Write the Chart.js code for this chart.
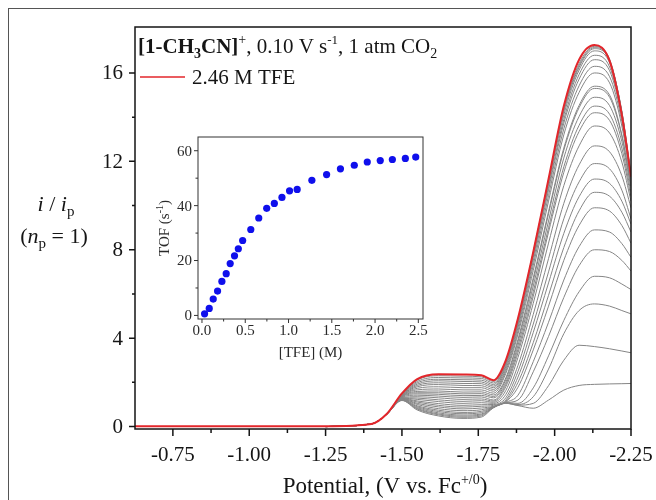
<!DOCTYPE html>
<html>
<head>
<meta charset="utf-8">
<script src="https://cdn.jsdelivr.net/npm/chart.js@4.4.1/dist/chart.umd.min.js"></script>
<style>
    body { margin: 0; background: #fff; }
    #wrap { position: relative; width: 656px; height: 500px; overflow: hidden; background: #fff; }
    #frame { position: absolute; left: 8px; top: 8px; width: 660px; height: 500px; border-left: 1px solid #555; border-top: 1px solid #555; }
    #cv { position: absolute; left: 0; top: 0; }
    #tof { position: absolute; left: 140px; top: 125px; }
</style>
</head>
<body>
<div id="wrap">
    <div id="frame"></div>
    <canvas id="cv" width="656" height="500"></canvas>
    <canvas id="tof" width="300" height="240"></canvas>
</div>
<script>
// Potentiale (V vs. Fc+/0), gemeinsam für alle Kurven
const potentials = [-0.626, -1.25, -1.40, -1.45, -1.50, -1.55, -1.62, -1.70, -1.76, -1.80, -1.84, -1.88, -1.93, -1.98, -2.03, -2.08, -2.13, -2.18, -2.22, -2.25];

// Graue CVs, steigende TFE-Konzentration (i/ip)
const greyTraces = [
    [null, 0, 0.12, 0.55, 1.18, 0.75, 0.48, 0.37, 0.43, 0.85, 1.05, 0.95, 0.83, 1.2, 1.65, 1.86, 1.91, 1.93, 1.94, 1.95],
    [null, 0, 0.12, 0.55, 1.19, 0.79, 0.53, 0.42, 0.48, 0.86, 1.06, 0.97, 1.05, 1.85, 3.0, 3.68, 3.62, 3.52, 3.42, 3.34],
    [null, 0, 0.12, 0.55, 1.20, 0.82, 0.57, 0.47, 0.53, 0.87, 1.07, 1.0, 1.35, 2.6, 4.2, 5.25, 5.55, 5.45, 5.25, 5.1],
    [null, 0, 0.12, 0.55, 1.20, 0.86, 0.62, 0.52, 0.57, 0.88, 1.08, 1.05, 1.75, 3.2, 4.8, 6.1, 6.8, 6.73, 6.45, 6.2],
    [null, 0, 0.12, 0.55, 1.21, 0.90, 0.68, 0.58, 0.63, 0.88, 1.08, 1.2, 2.48, 4.08, 5.84, 7.28, 8.0, 7.92, 7.52, 7.04],
    [null, 0, 0.12, 0.55, 1.22, 0.94, 0.74, 0.64, 0.69, 0.89, 1.1, 1.42, 2.94, 4.72, 6.63, 8.14, 8.9, 8.8, 8.28, 7.66],
    [null, 0, 0.12, 0.55, 1.24, 1.0, 0.81, 0.72, 0.76, 0.9, 1.12, 1.78, 3.47, 5.45, 7.52, 9.1, 9.9, 9.75, 9.1, 8.3],
    [null, 0, 0.12, 0.55, 1.25, 1.05, 0.89, 0.80, 0.84, 0.92, 1.15, 2.0, 3.8, 5.94, 8.1, 9.76, 10.6, 10.42, 9.7, 8.8],
    [null, 0, 0.12, 0.55, 1.26, 1.11, 0.96, 0.88, 0.92, 0.96, 1.2, 2.24, 4.26, 6.5, 8.74, 10.4, 11.2, 11.0, 10.2, 9.16],
    [null, 0, 0.12, 0.55, 1.27, 1.16, 1.04, 0.96, 0.99, 1.0, 1.3, 2.5, 4.64, 7.0, 9.4, 11.07, 11.9, 11.66, 10.7, 9.4],
    [null, 0, 0.12, 0.55, 1.29, 1.23, 1.13, 1.05, 1.08, 1.05, 1.45, 2.77, 5.08, 7.6, 10.1, 11.84, 12.7, 12.43, 11.35, 9.9],
    [null, 0, 0.12, 0.55, 1.30, 1.29, 1.21, 1.14, 1.17, 1.1, 1.63, 3.13, 5.58, 8.3, 10.9, 12.7, 13.6, 13.28, 11.97, 10.2],
    [null, 0, 0.12, 0.55, 1.32, 1.35, 1.30, 1.23, 1.25, 1.15, 1.8, 3.34, 5.9, 8.8, 11.5, 13.35, 14.2, 13.85, 12.35, 10.4],
    [null, 0, 0.12, 0.55, 1.33, 1.42, 1.38, 1.32, 1.34, 1.2, 1.9, 3.5, 6.1, 9.0, 11.75, 13.63, 14.5, 14.13, 12.6, 10.6],
    [null, 0, 0.12, 0.55, 1.35, 1.48, 1.46, 1.40, 1.41, 1.3, 2.0, 3.67, 6.36, 9.3, 12.15, 14.03, 14.9, 14.52, 12.9, 10.8],
    [null, 0, 0.12, 0.55, 1.36, 1.53, 1.53, 1.48, 1.49, 1.36, 2.12, 3.84, 6.6, 9.63, 12.5, 14.43, 15.3, 14.9, 13.15, 10.95],
    [null, 0, 0.12, 0.55, 1.37, 1.59, 1.61, 1.56, 1.57, 1.43, 2.2, 3.95, 6.73, 9.73, 12.6, 14.53, 15.4, 15.0, 13.2, 10.9],
    [null, 0, 0.12, 0.56, 1.39, 1.66, 1.70, 1.66, 1.66, 1.51, 2.4, 4.19, 7.07, 10.2, 13.2, 15.12, 16.0, 15.55, 13.6, 11.1],
    [null, 0, 0.12, 0.56, 1.40, 1.73, 1.80, 1.76, 1.76, 1.6, 2.5, 4.33, 7.3, 10.45, 13.47, 15.42, 16.3, 15.83, 13.8, 11.2],
    [null, 0, 0.12, 0.56, 1.42, 1.80, 1.90, 1.86, 1.85, 1.68, 2.6, 4.48, 7.5, 10.7, 13.73, 15.72, 16.6, 16.1, 13.98, 11.3],
    [null, 0, 0.12, 0.56, 1.43, 1.86, 1.98, 1.95, 1.94, 1.76, 2.7, 4.6, 7.65, 10.85, 13.9, 15.93, 16.8, 16.27, 14.1, 11.35],
    [null, 0, 0.12, 0.56, 1.45, 1.92, 2.07, 2.04, 2.02, 1.83, 2.78, 4.7, 7.78, 11.0, 14.1, 16.13, 17.0, 16.45, 14.24, 11.4],
    [null, 0, 0.12, 0.57, 1.46, 1.98, 2.14, 2.12, 2.10, 1.90, 2.85, 4.76, 7.85, 11.1, 14.25, 16.25, 17.1, 16.54, 14.28, 11.35],
    [null, 0, 0.12, 0.57, 1.47, 2.04, 2.22, 2.20, 2.18, 1.97, 2.9, 4.8, 7.87, 11.13, 14.33, 16.33, 17.15, 16.57, 14.2, 11.3],
    [null, 0, 0.12, 0.57, 1.48, 2.10, 2.30, 2.28, 2.25, 2.04, 2.95, 4.85, 7.9, 11.17, 14.4, 16.42, 17.2, 16.62, 14.2, 11.3]
];

// Rote Kurve: 2.46 M TFE
const redTrace = [0.02, 0.02, 0.12, 0.57, 1.5, 2.15, 2.37, 2.36, 2.32, 2.1, 3.0, 4.9, 7.9, 11.2, 14.5, 16.6, 17.27, 16.55, 14.1, 11.3];

// Achsenbeschriftung Hauptdiagramm
const xTicks = [-0.75, -1.00, -1.25, -1.50, -1.75, -2.00, -2.25];
const xMinorTicks = [-0.875, -1.125, -1.375, -1.625, -1.875, -2.125];
const yTicks = [0, 4, 8, 12, 16];
const yMinorTicks = [2, 6, 10, 14];

// Inset: TOF gegen [TFE]
const tfeConc = [0.03, 0.084, 0.13, 0.18, 0.23, 0.28, 0.326, 0.376, 0.42, 0.47, 0.564, 0.656, 0.748, 0.836, 0.924, 1.012, 1.10, 1.27, 1.44, 1.60, 1.76, 1.91, 2.06, 2.20, 2.35, 2.47];
const tofValues = [0.6, 2.55, 5.95, 8.87, 12.4, 15.2, 18.9, 21.7, 24.3, 27.3, 31.3, 35.5, 39.0, 40.8, 43.0, 45.4, 45.9, 49.2, 51.3, 53.4, 54.7, 55.9, 56.4, 56.8, 57.2, 57.7];
const insetXTicks = [0.0, 0.5, 1.0, 1.5, 2.0, 2.5];
const insetXMinor = [0.25, 0.75, 1.25, 1.75, 2.25];
const insetYTicks = [0, 20, 40, 60];
const insetYMinor = [10, 30, 50];

const SERIF = '"Liberation Serif", "Times New Roman", serif';
const INK = '#151515';

// Text aus mehreren Stücken (Hoch-/Tiefstellung)
function drawParts(ctx, parts, x, y, align) {
    let total = 0;
    parts.forEach(p => { ctx.font = p[1]; total += ctx.measureText(p[0]).width; });
    let cx = x;
    if (align === 'center') cx = x - total / 2;
    if (align === 'right') cx = x - total;
    ctx.textAlign = 'left';
    parts.forEach(p => {
        ctx.font = p[1];
        ctx.fillText(p[0], cx, y + (p[2] || 0));
        cx += ctx.measureText(p[0]).width;
    });
}

function toPoints(values) {
    return potentials
        .map((v, i) => ({ x: v, y: values[i] }))
        .filter(p => p.y !== null);
}

// Rahmen, Teilstriche und Beschriftungen des Hauptdiagramms
const cvDecor = {
    id: 'cvDecor',
    afterDraw(chart) {
        const { ctx, chartArea: a } = chart;
        const x = chart.scales.x, y = chart.scales.y;
        ctx.save();
        ctx.strokeStyle = INK;
        ctx.lineWidth = 1.5;
        ctx.strokeRect(a.left, a.top, a.right - a.left, a.bottom - a.top);

        ctx.beginPath();
        xTicks.forEach(v => { const px = x.getPixelForValue(v); ctx.moveTo(px, a.bottom); ctx.lineTo(px, a.bottom + 7); });
        xMinorTicks.forEach(v => { const px = x.getPixelForValue(v); ctx.moveTo(px, a.bottom); ctx.lineTo(px, a.bottom + 4); });
        yTicks.forEach(v => { const py = y.getPixelForValue(v); ctx.moveTo(a.left, py); ctx.lineTo(a.left - 6, py); });
        yMinorTicks.forEach(v => { const py = y.getPixelForValue(v); ctx.moveTo(a.left, py); ctx.lineTo(a.left - 3, py); });
        ctx.stroke();

        ctx.fillStyle = INK;
        ctx.font = '21px ' + SERIF;
        ctx.textAlign = 'center';
        ctx.textBaseline = 'alphabetic';
        xTicks.forEach(v => ctx.fillText(v.toFixed(2), x.getPixelForValue(v), 461));
        ctx.textAlign = 'right';
        ctx.textBaseline = 'middle';
        yTicks.forEach(v => ctx.fillText(String(v), a.left - 12, y.getPixelForValue(v) + 1));
        ctx.textBaseline = 'alphabetic';

        // Achsentitel
        const reg = '22px ' + SERIF, small = '14px ' + SERIF, ital = 'italic 22px ' + SERIF, sub = '15px ' + SERIF;
        drawParts(ctx, [['Potential, (V vs. Fc', '23px ' + SERIF], ['+/0', small, -9], [')', '23px ' + SERIF]], 385, 493, 'center');
        drawParts(ctx, [['i', ital], [' / ', reg], ['i', ital], ['p', sub, 5]], 56, 211, 'center');
        drawParts(ctx, [['(', reg], ['n', ital], ['p', sub, 5], [' = 1)', reg]], 54, 243, 'center');

        // Kopfzeile und Legende
        const head = '21px ' + SERIF, bold = 'bold 21px ' + SERIF, boldSub = 'bold 14px ' + SERIF;
        drawParts(ctx, [
            ['[1-CH', bold], ['3', boldSub, 5], ['CN]', bold], ['+', '14px ' + SERIF, -9],
            [', 0.10 V s', head], ['-1', '13px ' + SERIF, -9], [', 1 atm CO', head], ['2', '14px ' + SERIF, 5]
        ], 138, 53, 'left');
        ctx.strokeStyle = '#e3262b';
        ctx.lineWidth = 1.5;
        ctx.beginPath();
        ctx.moveTo(140, 77);
        ctx.lineTo(185, 77);
        ctx.stroke();
        drawParts(ctx, [['2.46 M TFE', head]], 192, 84, 'left');
        ctx.restore();
    }
};

const datasets = [{
    data: toPoints(redTrace),
    borderColor: '#e3262b',
    borderWidth: 2,
    order: 0
}];
greyTraces.forEach(tr => {
    datasets.push({
        data: toPoints(tr),
        borderColor: '#858585',
        borderWidth: 1,
        order: 1
    });
});

new Chart(document.getElementById('cv'), {
    type: 'line',
    data: { datasets: datasets },
    options: {
        responsive: false,
        animation: false,
        devicePixelRatio: 1,
        layout: { padding: { top: 27, right: 25, left: 0, bottom: 0 } },
        elements: {
            point: { radius: 0 },
            line: { cubicInterpolationMode: 'monotone', fill: false }
        },
        plugins: { legend: { display: false }, tooltip: { enabled: false } },
        scales: {
            x: {
                type: 'linear',
                reverse: true,
                min: -2.25,
                max: -0.626,
                grid: { display: false, drawTicks: false },
                border: { display: false },
                ticks: { display: false },
                afterFit: s => { s.height = 71; }
            },
            y: {
                min: -0.11,
                max: 18.08,
                grid: { display: false, drawTicks: false },
                border: { display: false },
                ticks: { display: false },
                afterFit: s => { s.width = 135; }
            }
        }
    },
    plugins: [cvDecor]
});

// Inset-Rahmen und Beschriftung
const insetDecor = {
    id: 'insetDecor',
    afterDraw(chart) {
        const { ctx, chartArea: a } = chart;
        const x = chart.scales.x, y = chart.scales.y;
        ctx.save();
        ctx.strokeStyle = '#333';
        ctx.lineWidth = 1;
        ctx.strokeRect(a.left, a.top, a.right - a.left, a.bottom - a.top);
        ctx.beginPath();
        insetXTicks.forEach(v => { const px = x.getPixelForValue(v); ctx.moveTo(px, a.bottom); ctx.lineTo(px, a.bottom + 4); });
        insetXMinor.forEach(v => { const px = x.getPixelForValue(v); ctx.moveTo(px, a.bottom); ctx.lineTo(px, a.bottom + 2.5); });
        insetYTicks.forEach(v => { const py = y.getPixelForValue(v); ctx.moveTo(a.left, py); ctx.lineTo(a.left - 4, py); });
        insetYMinor.forEach(v => { const py = y.getPixelForValue(v); ctx.moveTo(a.left, py); ctx.lineTo(a.left - 2.5, py); });
        ctx.stroke();

        ctx.fillStyle = '#2a2a2a';
        ctx.font = '15px ' + SERIF;
        ctx.textAlign = 'center';
        insetXTicks.forEach(v => ctx.fillText(v.toFixed(1), x.getPixelForValue(v), a.bottom + 16));
        ctx.textAlign = 'right';
        ctx.textBaseline = 'middle';
        insetYTicks.forEach(v => ctx.fillText(String(v), a.left - 6, y.getPixelForValue(v) + 1));
        ctx.textBaseline = 'alphabetic';

        drawParts(ctx, [['[TFE] (M)', '15px ' + SERIF]], (a.left + a.right) / 2, 232, 'center');
        ctx.translate(29, (a.top + a.bottom) / 2);
        ctx.rotate(-Math.PI / 2);
        drawParts(ctx, [['TOF (s', '15px ' + SERIF], ['-1', '10px ' + SERIF, -6], [')', '15px ' + SERIF]], 0, 0, 'center');
        ctx.restore();
    }
};

new Chart(document.getElementById('tof'), {
    type: 'scatter',
    data: {
        datasets: [{
            data: tfeConc.map((c, i) => ({ x: c, y: tofValues[i] })),
            backgroundColor: '#0f0fec',
            borderColor: '#0f0fec',
            pointRadius: 3.6,
            borderWidth: 0
        }]
    },
    options: {
        responsive: false,
        animation: false,
        devicePixelRatio: 1,
        layout: { padding: { top: 12, right: 17, left: 0, bottom: 0 } },
        plugins: { legend: { display: false }, tooltip: { enabled: false } },
        scales: {
            x: {
                type: 'linear',
                min: -0.046,
                max: 2.554,
                grid: { display: false, drawTicks: false },
                border: { display: false },
                ticks: { display: false },
                afterFit: s => { s.height = 46; }
            },
            y: {
                min: -1.3,
                max: 65,
                grid: { display: false, drawTicks: false },
                border: { display: false },
                ticks: { display: false },
                afterFit: s => { s.width = 58; }
            }
        }
    },
    plugins: [insetDecor]
});
</script>
</body>
</html>
